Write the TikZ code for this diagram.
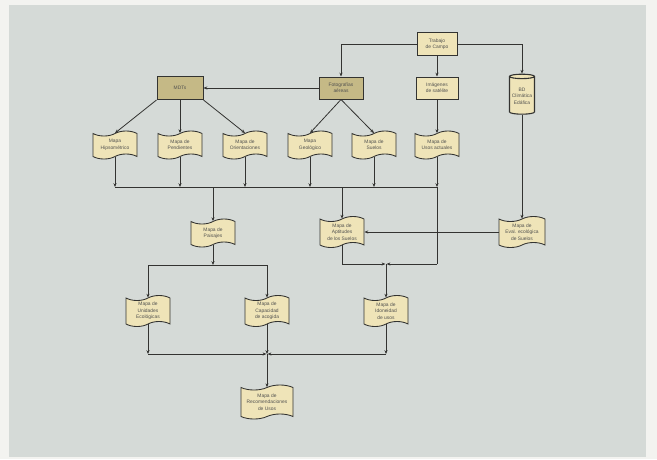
\documentclass[tikz,border=0pt]{standalone}
\usepackage{fontspec}
\setmainfont{Liberation Sans}
\usetikzlibrary{shapes.symbols,shapes.geometric,arrows.meta}
\definecolor{paper}{HTML}{F3F3F0}
\definecolor{board}{HTML}{D5DAD7}
\definecolor{ink}{HTML}{333331}
\definecolor{cream}{HTML}{EFE4B8}
\definecolor{tan}{HTML}{C5B986}
\tikzset{
  every node/.style={font=\fontsize{4.9}{6.4}\selectfont, text=ink!85, align=center, inner sep=1pt},
  box/.style={draw=ink, line width=1pt, fill=cream, minimum width=40pt, minimum height=23pt},
  darkbox/.style={box, fill=tan},
  mapdoc/.style={tape, draw=ink, line width=0.85pt, fill=cream, minimum width=44pt,
    minimum height=28pt, tape bend height=5pt},
  store/.style={cylinder, shape border rotate=90, draw=ink, line width=1.1pt, fill=cream,
    minimum width=25pt, minimum height=40pt, aspect=0.2},
  link/.style={draw=ink, line width=0.8pt},
  arr/.style={link, -{Stealth[length=3.8pt,width=3.1pt]}},
}
\begin{document}
\begin{tikzpicture}[x=1pt,y=-1pt]
  % sheet and board
  \fill[paper] (0,0) rectangle (657,459);
  \fill[board] (9,5) rectangle (646,457);
  \useasboundingbox (0,0) rectangle (657,459);

  % sources
  \node[box]      (tc)   at (437,44)  {Trabajo\\de Campo};
  \node[darkbox, minimum width=44pt, minimum height=22pt] (foto) at (341,88) {Fotografías\\aéreas};
  \node[box, minimum width=42pt, minimum height=22pt] (imag) at (437,88) {Imágenes\\de satélite};
  \node[store]    (bd)   at (522,96)  {BD\\Climática\\Edáfica};
  \node[darkbox, minimum width=46pt, minimum height=23pt] (mdt) at (180,88) {MDTs};

  % thematic maps
  \node[mapdoc] (hips) at (115,145) {Mapa\\Hipsométrico};
  \node[mapdoc] (pend) at (180,145) {Mapa de\\Pendientes};
  \node[mapdoc] (orie) at (245,145) {Mapa de\\Orientaciones};
  \node[mapdoc] (geol) at (310,145) {Mapa\\Geológico};
  \node[mapdoc] (suel) at (374,145) {Mapa de\\Suelos};
  \node[mapdoc] (usos) at (437,145) {Mapa de\\Usos actuales};

  % derived maps
  \node[mapdoc] (pais) at (213,233) {Mapa de\\Paisajes};
  \node[mapdoc, minimum height=31pt] (apti) at (342,232) {Mapa de\\Aptitudes\\de los Suelos};
  \node[mapdoc, minimum width=46pt, minimum height=31pt] (eval) at (522,232) {Mapa de\\Eval. ecológica\\de Suelos};

  \node[mapdoc, minimum height=31pt] (unid) at (148,311) {Mapa de\\Unidades\\Ecológicas};
  \node[mapdoc, minimum height=31pt] (capa) at (267,311) {Mapa de\\Capacidad\\de acogida};
  \node[mapdoc, minimum height=31pt] (idon) at (386,311) {Mapa de\\Idoneidad\\de usos};

  \node[mapdoc, minimum width=52pt, minimum height=34pt] (reco) at (267,402) {Mapa de\\Recomendaciones\\de Usos};

  % junction points
  \coordinate (busL) at (115,187);
  \coordinate (busR) at (437,187);
  \coordinate (busP) at (213,187);
  \coordinate (busA) at (342,187);
  \coordinate (midL) at (148,265);
  \coordinate (midR) at (267,265);
  \coordinate (midP) at (213,265);
  \coordinate (joinI) at (386,264);
  \coordinate (aptB) at (342,264);
  \coordinate (usoB) at (437,264);
  \coordinate (lowL) at (148,354);
  \coordinate (lowR) at (386,354);
  \coordinate (joinR) at (267,354);

  % field work branches
  \draw[arr] (tc.west) -| (foto.north);
  \draw[arr] (tc.south) -- (imag.north);
  \draw[arr] (tc.east) -| (bd.top);

  % photographs and elevation models
  \draw[arr] (foto.west) -- (mdt.east);
  \draw[arr] (mdt.south west) -- (hips.north);
  \draw[arr] (mdt.south) -- (pend.north);
  \draw[arr] (mdt.south east) -- (orie.north);
  \draw[arr] (foto.south) -- (geol.north);
  \draw[arr] (foto.south) -- (suel.north);
  \draw[arr] (imag.south) -- (usos.north);

  % first collector
  \draw[link] (busL) -- (busR);
  \foreach \m in {hips,pend,orie,geol,suel,usos}
    \draw[arr] (\m.south) -- (\m.south |- busL);
  \draw[arr] (busP) -- (pais.north);
  \draw[arr] (busA) -- (apti.north);

  % soil data
  \draw[arr] (bd.bottom) -- (eval.north);
  \draw[arr] (eval.west) -- (apti.east);

  % second level
  \draw[arr] (pais.south) -- (midP);
  \draw[link] (midL) -- (midR);
  \draw[arr] (midL) -- (unid.north);
  \draw[arr] (midR) -- (capa.north);
  \draw[link] (apti.south) -- (aptB);
  \draw[arr] (aptB) -- ([xshift=-0.6pt]joinI);
  \draw[link] (busR) -- (usoB);
  \draw[arr] (usoB) -- ([xshift=0.6pt]joinI);
  \draw[arr] (joinI) -- (idon.north);

  % final synthesis
  \draw[arr] (unid.south) -- (lowL);
  \draw[arr] (idon.south) -- (lowR);
  \draw[arr] (capa.south) -- (joinR);
  \draw[arr] (lowL) -- ([xshift=-0.6pt]joinR);
  \draw[arr] (lowR) -- ([xshift=0.6pt]joinR);
  \draw[arr] (joinR) -- (reco.north);
\end{tikzpicture}
\end{document}
